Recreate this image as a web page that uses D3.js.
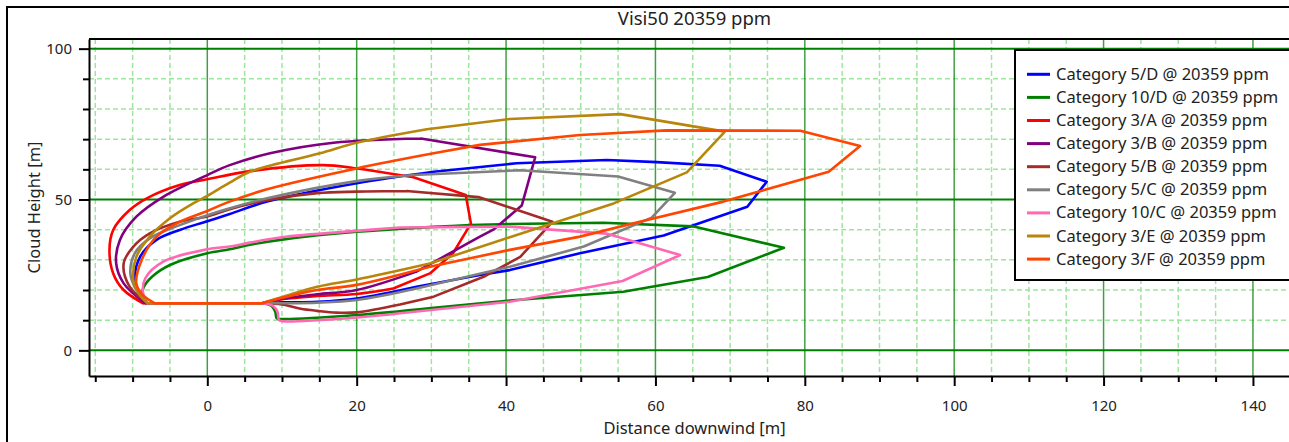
<!DOCTYPE html>
<html>
<head>
<meta charset="utf-8">
<script src="https://cdn.jsdelivr.net/npm/d3@7"></script>
<style>
  html, body { margin: 0; padding: 0; background: #fff; overflow: hidden; }
  text { font-family: "Noto Sans", sans-serif; fill: #222; }
</style>
</head>
<body>
<div id="chart"></div>
<script>
// chart text
var chartTitle = "Visi50 20359 ppm";
var xTitle = "Distance downwind [m]";
var yTitle = "Cloud Height [m]";

// legend entries
var categories = ["Category 5/D", "Category 10/D", "Category 3/A", "Category 3/B", "Category 5/B",
                  "Category 5/C", "Category 10/C", "Category 3/E", "Category 3/F"];
var concentration = "20359 ppm";

// ticks
var xMajor = [0, 20, 40, 60, 80, 100, 120, 140];
var xMinor = [-15, -10, -5, 5, 10, 15, 25, 30, 35, 45, 50, 55, 65, 70, 75, 85, 90, 95,
              105, 110, 115, 125, 130, 135, 145];
var yMajor = [0, 50, 100];
var yMinor = [10, 20, 30, 40, 60, 70, 80, 90];

// cloud outlines, [distance, height]
var cat5D = [[-8,15.6],[7.3,15.6],[10,15.9],[14.7,16.1],[20,17.2],[28,21.1],[36.5,25],[40.5,26.6],
  [49.9,32.2],[61.1,38.1],[72.3,47.6],[74.9,55.9],[68.6,61.2],[60.2,62.4],[53.5,63.1],[41.4,62],
  [30.3,59.2],[20,55.4],[8,49.3],[3,45.2],[0,42.8],[-3.7,39.9],[-6.8,36.6],[-9,31],[-9.7,23.3],
  [-9.1,18.8],[-8,15.6]];
var cat10D = [[-8,15.6],[7.3,15.6],[8.6,14.7],[9.1,12.8],[9.3,10.6],[10,10.4],[20,11.7],[30,14],
  [40.5,16.5],[55.7,19.4],[67,24.3],[77.2,34],[65,41.1],[53,42.3],[40.5,41.9],[35.2,41.5],[20,39.3],
  [10,36.7],[5.7,35],[3,33.5],[0,32.2],[-5,28.3],[-7.4,24.4],[-8.5,21],[-8.7,18.5],[-8,15.6]];
var cat3A = [[-8.6,15.6],[7.5,15.6],[10.2,17],[14.7,18],[20,18.7],[24.9,20.5],[29.8,25.5],[32.9,32.2],
  [34.5,38.8],[35.3,42],[34.6,51.5],[27.6,57.4],[20,60.3],[15.5,61.4],[5.7,59.4],[0,56.7],[-3.7,54.8],
  [-8.1,50.4],[-10.4,46.5],[-12.6,39.9],[-13.1,33.3],[-12.6,25.5],[-11.2,20],[-8.6,15.6]];
var cat3B = [[-8.3,15.6],[7.3,15.6],[10.2,17.2],[14.7,18.6],[20,20],[28,26.1],[32.5,32.2],[36.5,37.7],
  [38.3,40],[42.1,48],[43.9,64],[28.6,70.2],[16.9,68.8],[8.4,65.3],[3,61.4],[0,58.1],[-5.9,50.9],
  [-9.5,44.3],[-11.7,36.6],[-12.2,28.8],[-11.2,22.2],[-8.3,15.6]];
var cat5B = [[-8,15.6],[7.3,15.6],[10,15.2],[12.5,13.8],[14.7,13.1],[17.3,12.5],[20,12.6],[25.8,15.2],
  [30.3,17.8],[37,24.4],[41.9,31],[46.2,42.6],[36.3,50.8],[26.7,52.8],[20,52.6],[14.7,52.1],[8,49.8],
  [3,46.8],[0,44.4],[-3.7,42.6],[-7.7,38.8],[-9.9,34.4],[-11.2,28.8],[-10.4,21.1],[-8,15.6]];
var cat5C = [[-8,15.6],[7.3,15.6],[14.7,15.8],[20,16.7],[28,20.5],[40.5,27.7],[50.4,34.4],[59.5,44],
  [62.6,52.2],[55,57.6],[41.9,59.7],[27.6,58.1],[20,56.1],[8,50.4],[3,47.1],[0,44.8],[-3.7,41.5],
  [-7.7,37.1],[-9.7,32.2],[-10.3,25.5],[-9.5,20],[-8,15.6]];
var cat10C = [[-8,15.6],[7.3,15.6],[8.8,14.7],[9.4,12.8],[9.6,10],[10.3,9.6],[20,10.9],[25.8,12.3],
  [40.5,16.1],[55.6,23],[63.3,31.6],[53.4,38.7],[40.5,41],[25.8,40.7],[20,39.6],[10,37.5],[5.7,35.7],
  [3,34.4],[0,33.5],[-5.9,29.4],[-8.3,23.9],[-8.6,19],[-8,15.6]];
var cat3E = [[-8,15.6],[7.3,15.6],[10.2,17.8],[14.7,21.1],[20,23.5],[29.8,28.8],[40.5,37.5],[54.4,48.7],
  [64.2,59],[69.3,72.5],[55.3,78.3],[40.5,76.7],[29.4,73.3],[20,68.8],[15.1,65.3],[5.7,59.2],[3,55.6],
  [0,51.2],[-1.9,48.7],[-5,43.8],[-7.7,37.7],[-9.5,31],[-9.9,23.3],[-9.2,19],[-8,15.6]];
var cat3F = [[-7,15.6],[7.3,15.6],[10.2,17.5],[14.7,20],[20,21.7],[29.8,27.7],[40.5,33.3],[49.9,37.7],
  [57.9,42.6],[69.1,49.3],[83.2,59.2],[87.4,67.7],[79.4,72.8],[61.5,72.9],[49.9,71.4],[36.5,68.1],
  [30.3,65.3],[20,60.3],[8,53.4],[3,49.3],[0,46.2],[-3.7,42.6],[-6.8,37.7],[-8.8,29.9],[-9.5,22.2],
  [-8.7,18.5],[-7,15.6]];

var seriesData = [cat5D, cat10D, cat3A, cat3B, cat5B, cat5C, cat10C, cat3E, cat3F];
var colors = ["#0000ff", "#008000", "#ff0000", "#800080", "#a52a2a", "#808080", "#ff69b4", "#b8860b", "#ff4500"];

var width = 1289, height = 442;
var plotLeft = 89, plotRight = 1300, plotTop = 39, plotBottom = 376;

var svg = d3.select("#chart").append("svg")
  .attr("width", width)
  .attr("height", height);

// outer frame (runs past the window on the right and bottom)
svg.append("rect")
  .attr("x", 7).attr("y", 7)
  .attr("width", 1400).attr("height", 500)
  .attr("fill", "#fff")
  .attr("stroke", "#000")
  .attr("stroke-width", 2);

var x = d3.scaleLinear().domain([-15.84, 146.3]).range([plotLeft, plotRight]);
var y = d3.scaleLinear().domain([-8.5, 103.2]).range([plotBottom, plotTop]);

// grid
var grid = svg.append("g");
grid.selectAll(".vminor").data(xMinor).enter().append("line")
  .attr("x1", d => x(d)).attr("x2", d => x(d))
  .attr("y1", plotTop).attr("y2", plotBottom)
  .attr("stroke", "#9be89b").attr("stroke-width", 1.5).attr("stroke-dasharray", "5,3");
grid.selectAll(".hminor").data(yMinor).enter().append("line")
  .attr("x1", plotLeft).attr("x2", plotRight)
  .attr("y1", d => y(d)).attr("y2", d => y(d))
  .attr("stroke", "#9be89b").attr("stroke-width", 1.5).attr("stroke-dasharray", "5,3");
grid.selectAll(".vmajor").data(xMajor).enter().append("line")
  .attr("x1", d => x(d)).attr("x2", d => x(d))
  .attr("y1", plotTop).attr("y2", plotBottom)
  .attr("stroke", "#008000").attr("stroke-width", 1.5).attr("stroke-opacity", 0.75);
grid.selectAll(".hmajor").data(yMajor).enter().append("line")
  .attr("x1", plotLeft).attr("x2", plotRight)
  .attr("y1", d => y(d)).attr("y2", d => y(d))
  .attr("stroke", "#008000").attr("stroke-width", 2);

// plot frame top
svg.append("line")
  .attr("x1", plotLeft).attr("x2", plotRight)
  .attr("y1", plotTop).attr("y2", plotTop)
  .attr("stroke", "#000").attr("stroke-width", 2);

// axes
svg.append("g").attr("transform", "translate(0," + plotBottom + ")")
  .call(d3.axisBottom(x).tickValues(xMajor).tickSize(10).tickSizeOuter(0).tickPadding(14).tickFormat(d3.format("d")));
svg.append("g").attr("transform", "translate(0," + plotBottom + ")")
  .call(d3.axisBottom(x).tickValues(xMinor).tickSize(6).tickSizeOuter(0).tickFormat(""))
  .call(g => g.select(".domain").remove());
svg.append("g").attr("transform", "translate(" + plotLeft + ",0)")
  .call(d3.axisLeft(y).tickValues(yMajor).tickSize(10).tickSizeOuter(0).tickPadding(7).tickFormat(d3.format("d")));
svg.append("g").attr("transform", "translate(" + plotLeft + ",0)")
  .call(d3.axisLeft(y).tickValues(yMinor).tickSize(6).tickSizeOuter(0).tickFormat(""))
  .call(g => g.select(".domain").remove());

svg.selectAll(".domain").attr("stroke", "#000").attr("stroke-width", 2);
svg.selectAll(".tick line").attr("stroke", "#000").attr("stroke-width", 2);
svg.selectAll(".tick text").style("font-family", "'Noto Sans', sans-serif").style("font-size", "15px").attr("fill", "#222");

// clouds: straight segments on the far side, smooth curves near the source
var straight = d3.line().x(d => x(d[0])).y(d => y(d[1]));
var smooth = d3.line().x(d => x(d[0])).y(d => y(d[1])).curve(d3.curveCatmullRom.alpha(0.5));

function cloudPath(d) {
  var tip = d3.maxIndex(d, p => p[0]);
  var lowEnd = 1;
  while (lowEnd < tip && d[lowEnd][0] < 22) lowEnd++;
  var upStart = tip;
  while (upStart < d.length - 1 && d[upStart + 1][0] >= 22) upStart++;
  return straight(d.slice(0, 2)) +
         smooth(d.slice(1, lowEnd + 1)) +
         straight(d.slice(lowEnd, upStart + 1)) +
         smooth(d.slice(upStart));
}

svg.append("g").selectAll("path")
  .data(seriesData)
  .enter()
  .append("path")
    .attr("d", cloudPath)
    .attr("fill", "none")
    .attr("stroke", (d, i) => colors[i])
    .attr("stroke-width", 2.6)
    .attr("stroke-linejoin", "round")
    .attr("stroke-linecap", "round");

// titles
svg.append("text")
  .attr("x", (plotLeft + plotRight) / 2).attr("y", 25)
  .attr("text-anchor", "middle")
  .style("font-size", "18.5px")
  .text(chartTitle);
svg.append("text")
  .attr("x", (plotLeft + plotRight) / 2).attr("y", 434)
  .attr("text-anchor", "middle")
  .style("font-size", "16.5px")
  .text(xTitle);
svg.append("text")
  .attr("transform", "translate(40," + (plotTop + plotBottom) / 2 + ") rotate(-90)")
  .attr("text-anchor", "middle")
  .style("font-size", "16.5px")
  .text(yTitle);

// legend
var legend = svg.append("g");
legend.append("rect")
  .attr("x", 1015).attr("y", 50)
  .attr("width", 400).attr("height", 230)
  .attr("fill", "#fff")
  .attr("stroke", "#000").attr("stroke-width", 2);
var items = legend.selectAll(".item")
  .data(categories)
  .enter().append("g")
  .attr("transform", (d, i) => "translate(0," + (74.3 + i * 23.1) + ")");
items.append("line")
  .attr("x1", 1027).attr("x2", 1050)
  .attr("stroke", (d, i) => colors[i])
  .attr("stroke-width", 3);
items.append("text")
  .attr("x", 1056).attr("y", 5.5)
  .style("font-size", "16.5px")
  .text(d => d + " @ " + concentration);
</script>
</body>
</html>
